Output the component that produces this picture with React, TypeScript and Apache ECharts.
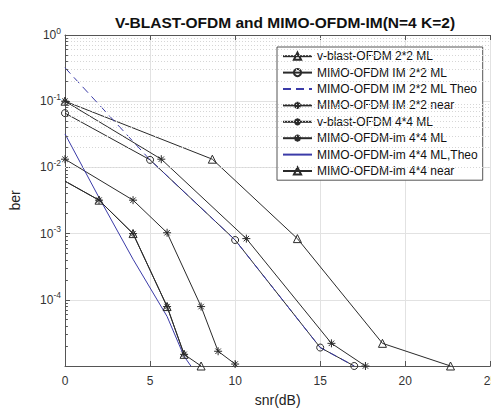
import { useEffect, useRef } from 'react';
import * as echarts from 'echarts';

// ---- data ----
const snrVblast22 = [0, 8.66, 13.66, 18.66, 22.66];
const berVblast22 = [0.1, 0.0133, 8.4e-4, 2.2e-5, 1e-5];

const snrIm22 = [0, 5, 10, 15, 17];
const berIm22 = [0.066, 0.013, 8e-4, 1.9e-5, 1e-5];

const snrIm22Theo = [0, 5, 10, 15, 17];
const berIm22Theo = [0.32, 0.013, 8e-4, 1.9e-5, 1e-5];

const snrIm22Near = [0, 5.66, 10.66, 15.66, 17.66];
const berIm22Near = [0.1, 0.0133, 8.4e-4, 2.2e-5, 1e-5];

const snrVblast44 = [0, 4, 6, 8, 9, 10];
const berVblast44 = [0.0133, 3.2e-3, 1.03e-3, 7.9e-5, 1.67e-5, 1.07e-5];

const snrIm44 = [0, 2, 4, 6, 7];
const berIm44 = [6.2e-3, 3.2e-3, 1e-3, 7.9e-5, 1.5e-5];

const snrIm44Theo = [0, 2, 4, 6, 7, 7.4];
const berIm44Theo = [0.032, 3.5e-3, 4.1e-4, 5.6e-5, 1.4e-5, 1e-5];

const snrIm44Near = [0, 2, 4, 6, 7, 8];
const berIm44Near = [6.2e-3, 3.2e-3, 1e-3, 7.9e-5, 1.5e-5, 1e-5];

const seriesNames = [
  'v-blast-OFDM 2*2 ML',
  'MIMO-OFDM IM 2*2 ML',
  'MIMO-OFDM IM 2*2 ML Theo',
  'MIMO-OFDM IM 2*2 near',
  'v-blast-OFDM 4*4 ML',
  'MIMO-OFDM-im 4*4 ML',
  'MIMO-OFDM-im 4*4 ML,Theo',
  'MIMO-OFDM-im 4*4 near',
];
const noMarkerNames = ['MIMO-OFDM IM 2*2 ML Theo', 'MIMO-OFDM-im 4*4 ML,Theo'];

const xMin = 0;
const xMax = 25;
const xStep = 5;
const yMin = 1e-5;
const yMax = 1;
const minorMultipliers = [2, 3, 4, 5, 6, 7, 8, 9];
const decadeExponents = [-5, -4, -3, -2, -1];

const titleText = 'V-BLAST-OFDM and MIMO-OFDM-IM(N=4 K=2)';
const xName = 'snr(dB)';
const yName = 'ber';

const FONT = '"Liberation Sans", Arial, Helvetica, sans-serif';
const DARK = '#2a2a2a';
const BLUE = '#3b3ba8';
const STAR = 'path://M5 0L5 10M0 5L10 5M1.6 1.6L8.4 8.4M8.4 1.6L1.6 8.4';

function pairs(xs: number[], ys: number[], hideFirst = false) {
  return xs.map((x, i) =>
    hideFirst && i === 0 ? { value: [x, ys[i]], symbol: 'none' } : { value: [x, ys[i]] }
  );
}

function mk(name: string, data: any[], color: string, symbol: string, size: number, dashed = false) {
  return {
    type: 'line',
    name,
    data,
    clip: false,
    symbol,
    symbolSize: size,
    z: 3,
    lineStyle: { color, width: 1, type: dashed ? [8, 5] : 'solid' },
    itemStyle: { color: 'none', borderColor: color, borderWidth: 1 },
    emphasis: { disabled: true },
  };
}

export default function App() {
  const ref = useRef<HTMLDivElement>(null);
  useEffect(() => {
    const chart = echarts.init(ref.current!, null, { renderer: 'svg' });
    const minorVals: number[] = [];
    decadeExponents.forEach((e) => minorMultipliers.forEach((m) => minorVals.push(m * Math.pow(10, e))));

    const option: any = {
      animation: false,
      backgroundColor: '#fff',
      textStyle: { fontFamily: FONT },
      grid: { left: 62, right: 8, top: 35, bottom: 41, containLabel: false },
      graphic: [
        {
          type: 'text',
          x: 285,
          y: 22,
          style: {
            text: titleText,
            fontFamily: FONT,
            fontWeight: 'bold',
            fontSize: 15.5,
            fill: '#111',
            textAlign: 'center',
            textVerticalAlign: 'middle',
          },
        },
      ],
      legend: {
        orient: 'vertical',
        left: 277,
        top: 47,
        data: seriesNames.map((n) =>
          noMarkerNames.includes(n)
            ? { name: n, itemStyle: { color: 'none', borderColor: 'transparent', borderWidth: 0 } }
            : { name: n }
        ),
        backgroundColor: '#fff',
        borderColor: '#555',
        borderWidth: 1,
        borderRadius: 0,
        padding: [1, 5, 1, 5],
        itemGap: 0,
        itemWidth: 29,
        itemHeight: 9,
        selectedMode: false,
        textStyle: { fontFamily: FONT, fontSize: 12, color: '#111', lineHeight: 16.4 },
      },
      xAxis: [
        {
          type: 'value',
          min: xMin,
          max: xMax,
          interval: xStep,
          axisLine: { show: true, lineStyle: { color: '#555', width: 1 } },
          axisTick: { show: true, inside: true, length: 5, lineStyle: { color: '#555' } },
          axisLabel: { fontFamily: FONT, fontSize: 12, color: '#333', margin: 9 },
          splitLine: { show: true, lineStyle: { color: '#e2e2e2', width: 1 } },
          name: xName,
          nameLocation: 'middle',
          nameGap: 27,
          nameTextStyle: { fontFamily: FONT, fontSize: 14, color: '#222' },
        },
        {
          type: 'value',
          position: 'top',
          min: xMin,
          max: xMax,
          interval: xStep,
          axisLine: { show: true, lineStyle: { color: '#555', width: 1 } },
          axisTick: { show: true, inside: true, length: 5, lineStyle: { color: '#555' } },
          axisLabel: { show: false },
          splitLine: { show: false },
        },
      ],
      yAxis: {
        type: 'log',
        logBase: 10,
        min: yMin,
        max: yMax,
        interval: 1,
        axisLine: { show: true, lineStyle: { color: '#555', width: 1 } },
        axisTick: { show: true, inside: true, length: 5, lineStyle: { color: '#555' } },
        minorTick: { show: false },
        splitLine: { show: true, lineStyle: { color: '#e2e2e2', width: 1 } },
        axisLabel: {
          margin: 4,
          formatter: (v: number) => {
            const e = Math.round(Math.log10(v));
            if (e === -5) return '';
            return `{b|10}{s|${e}}`;
          },
          rich: {
            b: { fontFamily: FONT, fontSize: 12, color: '#333' },
            s: { fontFamily: FONT, fontSize: 8.5, color: '#333', padding: [0, 0, 9, 0] },
          },
        },
        name: yName,
        nameLocation: 'middle',
        nameGap: 43,
        nameTextStyle: { fontFamily: FONT, fontSize: 14, color: '#222' },
      },
      series: [
        {
          type: 'line',
          name: '_minorgrid',
          data: [],
          silent: true,
          z: 1,
          markLine: {
            silent: true,
            symbol: ['none', 'none'],
            label: { show: false },
            lineStyle: { color: '#d6d6d6', type: [1, 2], width: 1 },
            data: [
              ...minorVals.map((v) => ({ yAxis: v })),
              ...minorVals.map((v) => [
                { coord: [xMin, v], lineStyle: { color: '#555', type: 'solid', width: 1 } },
                { coord: [xMin + 0.17, v] },
              ]),
            ],
          },
        },
        mk(seriesNames[0], pairs(snrVblast22, berVblast22), DARK, 'triangle', 8),
        mk(seriesNames[1], pairs(snrIm22, berIm22), DARK, 'circle', 7),
        mk(seriesNames[2], pairs(snrIm22Theo, berIm22Theo), BLUE, 'none', 0, true),
        mk(seriesNames[3], pairs(snrIm22Near, berIm22Near), DARK, STAR, 8),
        mk(seriesNames[4], pairs(snrVblast44, berVblast44), DARK, STAR, 8),
        mk(seriesNames[5], pairs(snrIm44, berIm44, true), DARK, STAR, 8),
        mk(seriesNames[6], pairs(snrIm44Theo, berIm44Theo), BLUE, 'none', 0),
        mk(seriesNames[7], pairs(snrIm44Near, berIm44Near, true), DARK, 'triangle', 8),
      ],
    };
    chart.setOption(option);
    return () => chart.dispose();
  }, []);
  return (
    <div
      style={{
        position: 'fixed',
        left: 0,
        top: 0,
        width: 491,
        height: 412,
        overflow: 'hidden',
        background: '#fff',
      }}
    >
      <div ref={ref} style={{ width: 500, height: 412 }} />
    </div>
  );
}
